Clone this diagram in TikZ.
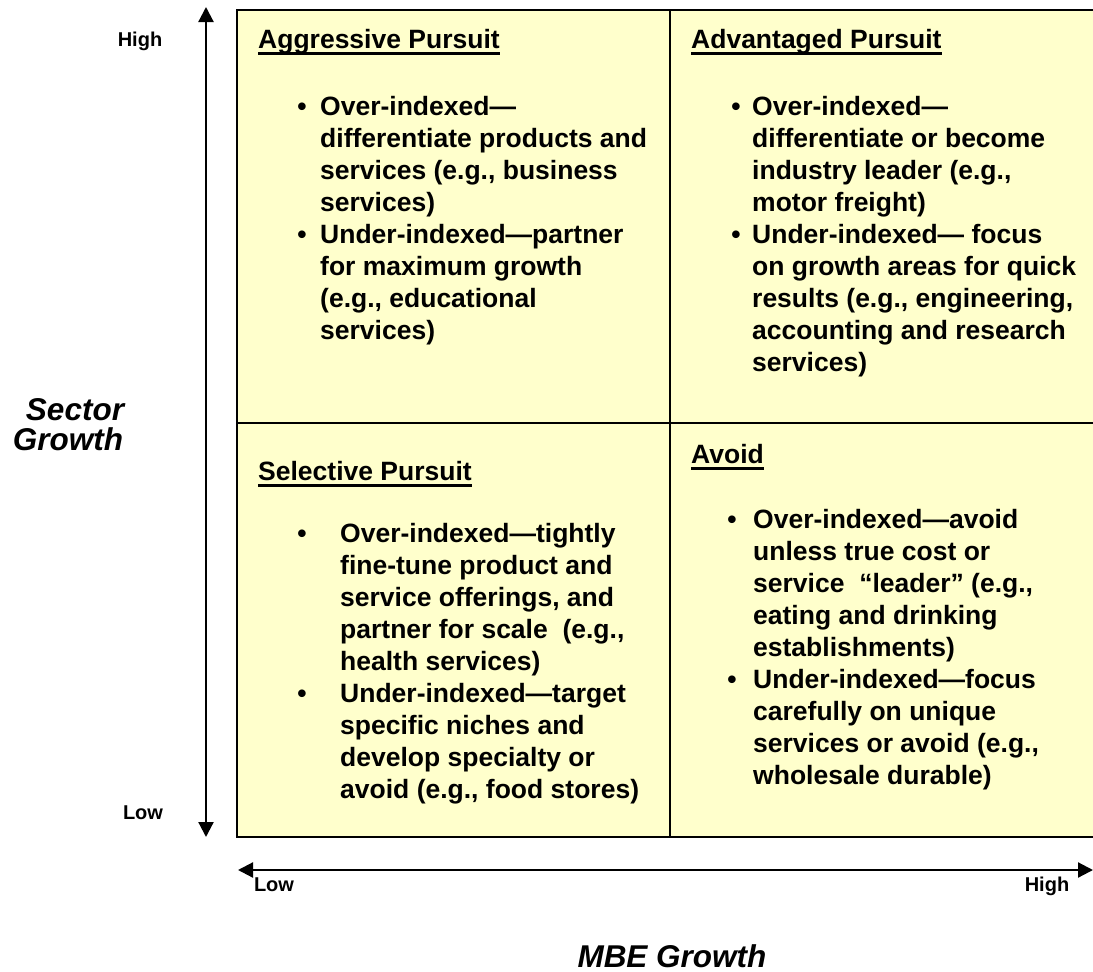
\documentclass[tikz,border=0pt]{standalone}
\usepackage{fontspec}
\setmainfont{Liberation Sans}
\usetikzlibrary{arrows.meta}

\definecolor{quadfill}{RGB}{255,255,204}
\newcommand{\qlines}[1]{\begin{tabular}[t]{@{}l@{}}#1\end{tabular}}

\tikzset{
  body/.style={anchor=base west, inner sep=0pt, font=\bfseries\fontsize{26.5}{32}\selectfont},
  bulletmark/.style={anchor=base, inner sep=0pt, font=\bfseries\fontsize{26.5}{32}\selectfont},
  heading/.style={anchor=base west, inner sep=0pt, font=\bfseries\fontsize{26.5}{32}\selectfont},
  headline/.style={line width=2.6pt},
  gridline/.style={line width=2.6pt},
  axislabel/.style={anchor=base, inner sep=0pt, font=\bfseries\fontsize{20}{24}\selectfont},
  axistitle/.style={inner sep=0pt, align=center, font=\bfseries\itshape\fontsize{31.5}{30}\selectfont},
  axisarrow/.style={line width=2.2pt, {Triangle[width=15pt,length=15pt]}-{Triangle[width=15pt,length=15pt]}},
}

\begin{document}
\begin{tikzpicture}[x=1pt, y=-1pt]
  \useasboundingbox (0,0) rectangle (1093,972);

  % quadrants
  \fill[quadfill] (237,10) rectangle (1093,837);
  \draw[gridline] (1093,10) -- (237,10) -- (237,837) -- (1093,837);
  \draw[gridline] (670,10) -- (670,837);
  \draw[gridline] (237,423) -- (1093,423);

  % quadrant titles
  \foreach \name/\x/\y/\txt in {
    aggr/258/48/Aggressive Pursuit, adv/691/48/Advantaged Pursuit,
    sel/258/480/Selective Pursuit, avoid/691/463/Avoid} {
    \node[heading] (\name) at (\x,\y) {\txt};
    \draw[headline] ([yshift=-5.5pt]\name.base west) -- ([yshift=-5.5pt]\name.base east);
  }

  % bullets
  \foreach \name/\x/\y in {aggrA/302/115, aggrB/302/243, advA/736/115, advB/736/243,
    selA/302/542, selB/302/702, avoidA/732/528, avoidB/732/688}
    \node[bulletmark] (b-\name) at (\x,\y) {•};

  \node[body] (aggrA) at (320,115) {\qlines{Over-indexed—\\differentiate products and\\services (e.g., business\\services)}};
  \node[body] (aggrB) at (320,243) {\qlines{Under-indexed—partner\\for maximum growth\\(e.g., educational\\services)}};
  \node[body] (advA) at (752,115) {\qlines{Over-indexed—\\differentiate or become\\industry leader (e.g.,\\motor freight)}};
  \node[body] (advB) at (752,243) {\qlines{Under-indexed— focus\\on growth areas for quick\\results (e.g., engineering,\\accounting and research\\services)}};
  \node[body] (selA) at (340,542) {\qlines{Over-indexed—tightly\\fine-tune product and\\service offerings, and\\partner for scale\ \ (e.g.,\\health services)}};
  \node[body] (selB) at (340,702) {\qlines{Under-indexed—target\\specific niches and\\develop specialty or\\avoid (e.g., food stores)}};
  \node[body] (avoidA) at (753,528) {\qlines{Over-indexed—avoid\\unless true cost or\\service\ \ “leader” (e.g.,\\eating and drinking\\establishments)}};
  \node[body] (avoidB) at (753,688) {\qlines{Under-indexed—focus\\carefully on unique\\services or avoid (e.g.,\\wholesale durable)}};

  % axes
  \coordinate (ytop) at (206,7);
  \coordinate (ybot) at (206,837);
  \coordinate (xleft) at (238,870);
  \coordinate (xright) at (1093,870);
  \draw[axisarrow] (ytop) -- (ybot);
  \draw[axisarrow] (xleft) -- (xright);

  \node[axislabel] (yhigh) at (140,46) {High};
  \node[axislabel] (ylow) at (143,819) {Low};
  \node[axislabel] (xlow) at (274,891) {Low};
  \node[axislabel] (xhigh) at (1047,891) {High};
  \node[axistitle] (ytitle) at (68,425) {\hspace*{14pt}Sector\\Growth};
  \node[axistitle, anchor=base] (xtitle) at (672,967) {MBE Growth};
\end{tikzpicture}
\end{document}
